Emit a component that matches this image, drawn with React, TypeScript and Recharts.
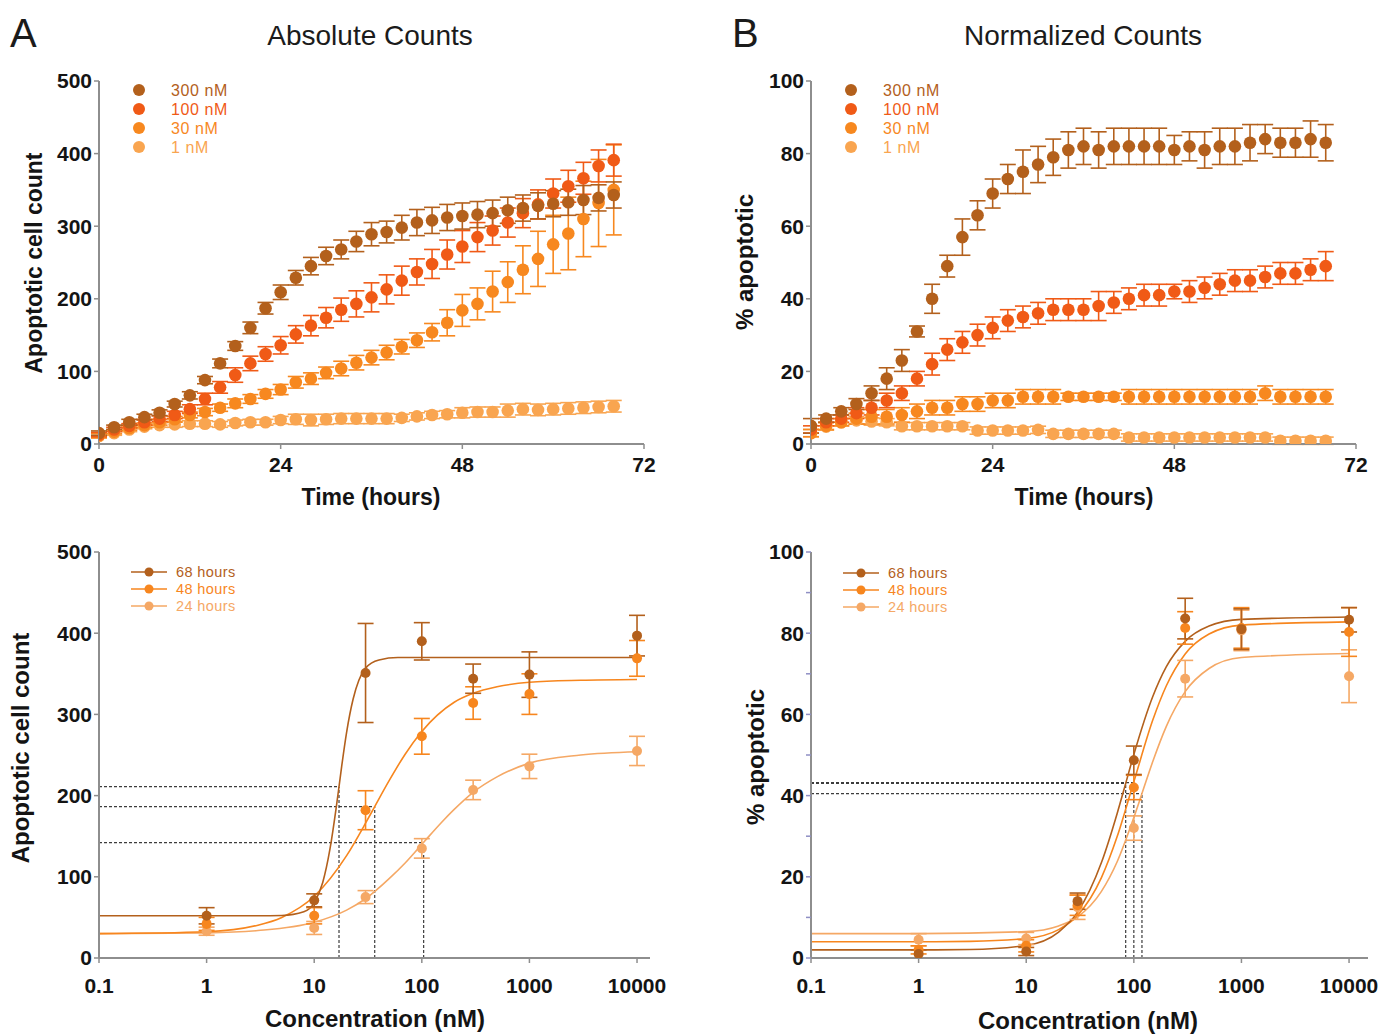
import React from 'react';
import { ScatterChart, ComposedChart, Scatter, Line, XAxis, YAxis, ErrorBar, ReferenceLine } from 'recharts';

const FONT = '"Liberation Sans", Arial, Helvetica, sans-serif';
const C300 = '#B3601C';
const C100 = '#F05A16';
const C30 = '#F7881F';
const C1 = '#F9A550';
const C68 = '#B3601C';
const C48 = '#F7861E';
const C24 = '#F5A865';
const AXIS = '#8e8e8e';

// ---- Top panels: time course ----
const TIMES = [0, 2, 4, 6, 8, 10, 12, 14, 16, 18, 20, 22, 24, 26, 28, 30, 32, 34, 36, 38, 40, 42, 44, 46, 48, 50, 52, 54, 56, 58, 60, 62, 64, 66, 68];
const TIME_TICKS = [0, 24, 48, 72];

const ABS_300 = [15, 23, 30, 37, 43, 55, 67, 88, 111, 135, 160, 187, 209, 229, 245, 259, 268, 279, 289, 292, 298, 305, 308, 312, 314, 316, 318, 322, 325, 328, 331, 333, 336, 339, 343];
const ERR_ABS_300 = [3, 3, 4, 4, 4, 4, 5, 5, 6, 6, 8, 8, 10, 10, 12, 12, 13, 14, 16, 15, 17, 18, 18, 18, 18, 18, 18, 18, 18, 18, 18, 18, 20, 18, 18];
const ABS_100 = [13, 20, 25, 30, 35, 40, 48, 62, 78, 95, 111, 124, 136, 151, 163, 174, 185, 193, 202, 213, 225, 237, 248, 261, 272, 285, 294, 305, 318, 330, 345, 355, 366, 383, 391];
const ERR_ABS_100 = [3, 3, 3, 4, 4, 5, 6, 8, 8, 10, 10, 10, 12, 12, 14, 14, 16, 18, 20, 20, 20, 18, 20, 20, 22, 20, 20, 20, 20, 20, 20, 22, 22, 22, 22];
const ABS_30 = [12, 17, 22, 26, 30, 34, 40, 44, 50, 56, 62, 69, 75, 85, 90, 98, 104, 112, 119, 126, 134, 143, 154, 167, 184, 193, 210, 223, 240, 255, 275, 290, 310, 332, 350];
const ERR_ABS_30 = [3, 3, 3, 3, 4, 4, 4, 5, 5, 6, 6, 6, 7, 8, 8, 8, 10, 10, 10, 10, 10, 10, 12, 18, 22, 22, 28, 28, 33, 38, 40, 50, 52, 60, 62];
const ABS_1 = [11, 15, 20, 24, 26, 27, 28, 28, 27, 29, 30, 30, 33, 34, 33, 34, 35, 35, 35, 35, 36, 38, 40, 41, 43, 44, 44, 46, 48, 47, 48, 49, 50, 51, 52];
const ERR_ABS_1 = [3, 3, 3, 3, 3, 4, 4, 4, 4, 4, 4, 4, 5, 7, 8, 7, 7, 7, 7, 7, 5, 5, 5, 5, 7, 7, 7, 9, 8, 8, 8, 8, 8, 8, 8];

const NORM_300 = [5, 7, 9, 11, 14, 18, 23, 31, 40, 49, 57, 63, 69, 73, 75, 77, 79, 81, 82, 81, 82, 82, 82, 82, 81, 82, 81, 82, 82, 83, 84, 83, 83, 84, 83];
const ERR_NORM_300 = [2, 1, 1, 1.5, 2, 3, 3, 1.5, 4, 3, 5, 4, 4, 4, 6, 5, 5, 5, 5, 5, 5, 5, 5, 5, 4, 4, 5, 5, 5, 5, 4, 4, 4, 5, 5];
const NORM_100 = [4, 6, 7, 8.5, 10, 12, 14, 18, 22, 26, 28, 30, 32, 34, 35, 36, 37, 37, 37, 38, 39, 40, 41, 41, 42, 42, 43, 44, 45, 45, 46, 47, 47, 48, 49];
const ERR_NORM_100 = [1, 1, 1, 1.5, 2, 2, 2, 2, 3, 3, 3, 3, 3, 3, 3, 3, 3, 3, 3, 4, 3, 3, 3, 3, 2, 3, 3, 3, 3, 3, 3, 3, 3, 3, 4];
const NORM_30 = [3, 5, 6, 7, 7.5, 7.5, 8, 9, 10, 10, 11, 11, 12, 12, 13, 13, 13, 13, 13, 13, 13, 13, 13, 13, 13, 13, 13, 13, 13, 13, 14, 13, 13, 13, 13];
const ERR_NORM_30 = [1, 1, 1, 1.5, 2, 2, 2, 2, 2, 2, 2, 2, 2, 2, 2, 2, 2, 1, 1, 1, 1, 2, 2, 2, 2, 2, 2, 2, 2, 2, 2, 2, 2, 2, 2];
const NORM_1 = [3, 4.8, 6, 6.5, 6.2, 6, 4.9, 4.9, 4.9, 4.9, 4.9, 3.7, 3.7, 3.7, 3.7, 3.9, 2.8, 2.8, 2.8, 2.8, 2.8, 1.8, 1.8, 1.8, 1.8, 1.8, 1.8, 1.8, 1.8, 1.8, 1.8, 0.9, 0.9, 0.9, 0.9];
const ERR_NORM_1 = [1, 1, 1, 1, 1, 1, 1, 1, 1, 1, 1, 1, 1, 1, 1, 1, 1, 1, 1, 1, 1, 1, 1, 1, 1, 1, 1, 1, 1, 1, 1, 1, 1, 1, 1];

// ---- Bottom panels: dose response ----
const CONC = [1, 10, 30, 100, 300, 1000, 10000];
const CONC_TICKS = [0.1, 1, 10, 100, 1000, 10000];

const DR_ABS_68 = [52, 71, 351, 390, 344, 349, 397];
const DR_ABS_68_ERR = [10, 8, 61, 23, 18, 28, 25];
const DR_ABS_48 = [42, 52, 182, 273, 314, 325, 369];
const DR_ABS_48_ERR = [8, 10, 24, 22, 20, 25, 22];
const DR_ABS_24 = [33, 37, 75, 135, 207, 236, 255];
const DR_ABS_24_ERR = [5, 8, 8, 12, 12, 15, 18];

const DR_NORM_68 = [1, 1.6, 14, 48.7, 83.6, 81, 83.3];
const DR_NORM_68_ERR = [1, 1, 2, 3.5, 5, 5, 3];
const DR_NORM_48 = [2, 3, 13, 42, 81.3, 81.3, 80.3];
const DR_NORM_48_ERR = [1, 1.5, 2.5, 3, 4, 5, 6];
const DR_NORM_24 = [4.5, 4.8, 12.5, 32, 68.8, 80.7, 69.4];
const DR_NORM_24_ERR = [1.5, 1.5, 3, 3, 4.5, 5, 6.5];

// fitted curves
const FIT_ABS_68_X = [0.1, 1, 3, 5, 8, 10, 12, 14, 16, 17, 18, 20, 23, 26, 30, 40, 60, 100, 1000, 10000];
const FIT_ABS_68_Y = [52, 52, 52, 52.4, 57, 68, 93, 134, 185, 211, 236, 278, 319, 342, 357, 367, 370, 370, 370, 370];
const FIT_ABS_48_X = [0.1, 1, 3, 5, 10, 20, 30, 36.5, 50, 70, 100, 200, 300, 500, 1000, 3000, 10000];
const FIT_ABS_48_Y = [30, 32.4, 40.4, 50, 76, 126, 166, 186.5, 219, 251, 279, 315, 326, 334, 339.5, 342, 343];
const FIT_ABS_24_X = [0.1, 1, 3, 10, 20, 30, 50, 70, 104, 150, 200, 300, 500, 1000, 3000, 10000];
const FIT_ABS_24_Y = [30, 31, 33.8, 44, 59, 73, 98, 117, 142.5, 166, 183, 204, 223, 240, 250, 254];

const FIT_NORM_68_X = [0.1, 1, 3, 10, 20, 30, 50, 70, 84, 100, 150, 200, 300, 500, 1000, 10000];
const FIT_NORM_68_Y = [2, 2, 2.1, 3.1, 6.4, 11.3, 23.5, 35.6, 43, 50.1, 64.4, 71.7, 78, 81.75, 83.4, 84];
const FIT_NORM_48_X = [0.1, 1, 3, 10, 20, 30, 50, 70, 100, 150, 200, 300, 500, 1000, 10000];
const FIT_NORM_48_Y = [4, 4, 4.1, 4.8, 7.0, 10.5, 19.8, 29.9, 43.4, 58.6, 67, 74.9, 79.8, 82, 82.8];
const FIT_NORM_24_X = [0.1, 1, 10, 20, 30, 50, 70, 100, 119, 150, 200, 300, 500, 1000, 10000];
const FIT_NORM_24_Y = [6, 6, 6.5, 7.9, 10.1, 16.4, 23.7, 34.6, 40.5, 48.4, 57, 65.6, 71.3, 74, 75];

// EC50 guide lines
const ABS_EC50 = [17, 36.5, 104];
const ABS_HALF = [211, 186.5, 142];
const NORM_EC50 = [84, 100, 119];
const NORM_HALF = [43, 43.2, 40.5];

const pts = (xs: number[], ys: number[], es: number[]) => xs.map((x, i) => ({ x, y: ys[i], e: es[i] }));
const curve = (xs: number[], ys: number[]) => xs.map((x, i) => ({ x, y: ys[i] }));

const dot = (color: string, r: number) => (p: any) =>
  p.cx == null || p.cy == null ? <g /> : <circle cx={p.cx} cy={p.cy} r={r} fill={color} />;

const tickStyle = { fill: '#141414', fontSize: 21, fontWeight: 700, fontFamily: FONT };
const axisLine = { stroke: AXIS, strokeWidth: 2 };
const tickLine = { stroke: AXIS, strokeWidth: 1.5 };

function TimePanel({ left, series, yMax, yTicks }: any) {
  return (
    <div style={{ position: 'absolute', left, top: 60 }}>
      <ScatterChart width={680} height={470} margin={{ top: 21, right: 36, bottom: 46, left: 0 }}>
        <XAxis type="number" dataKey="x" domain={[0, 72]} ticks={TIME_TICKS} interval={0} allowDataOverflow
          height={40} axisLine={axisLine} tickLine={tickLine} tickSize={5} tickMargin={8} tick={tickStyle} />
        <YAxis type="number" dataKey="y" domain={[0, yMax]} ticks={yTicks} interval={0} allowDataOverflow
          width={99} axisLine={axisLine} tickLine={tickLine} tickSize={5} tickMargin={2} tick={tickStyle} />
        {series.map((s: any) => (
          <Scatter key={s.name} name={s.name} data={s.data} isAnimationActive={false} shape={dot(s.color, 6.3)}>
            <ErrorBar dataKey="e" direction="y" width={8} stroke={s.color} strokeWidth={1.6} />
          </Scatter>
        ))}
      </ScatterChart>
    </div>
  );
}

function DosePanel({ left, right, xMax, yMax, yTicks, yFmt, yTickColor, fits, series, ec50, half }: any) {
  return (
    <div style={{ position: 'absolute', left, top: 530 }}>
      <ComposedChart width={690} height={500} margin={{ top: 22, right, bottom: 32, left: 0 }}>
        <XAxis type="number" dataKey="x" scale="log" domain={[0.1, xMax]} ticks={CONC_TICKS} interval={0} allowDataOverflow
          height={40} axisLine={axisLine} tickLine={tickLine} tickSize={5} tickMargin={15} tick={tickStyle} />
        <YAxis type="number" dataKey="y" domain={[0, yMax]} ticks={yTicks} interval={0} allowDataOverflow
          tickFormatter={yFmt} width={99} axisLine={axisLine} tickLine={{ stroke: yTickColor, strokeWidth: 1.5 }}
          tickSize={5} tickMargin={2} tick={tickStyle} />
        {ec50.map((x: number, i: number) => (
          <ReferenceLine key={'h' + i} segment={[{ x: 0.1, y: half[i] }, { x, y: half[i] }]} stroke="#3c3c3c" strokeWidth={1.2} strokeDasharray="3 2" />
        ))}
        {ec50.map((x: number, i: number) => (
          <ReferenceLine key={'v' + i} segment={[{ x, y: 0 }, { x, y: half[i] }]} stroke="#3c3c3c" strokeWidth={1.2} strokeDasharray="3 2" />
        ))}
        {fits.map((f: any) => (
          <Line key={f.name} data={f.data} dataKey="y" type="monotone" dot={false} activeDot={false}
            stroke={f.color} strokeWidth={1.6} isAnimationActive={false} />
        ))}
        {series.map((s: any) => (
          <Scatter key={s.name} name={s.name} data={s.data} isAnimationActive={false} shape={dot(s.color, 5)}>
            <ErrorBar dataKey="e" direction="y" width={8} stroke={s.color} strokeWidth={1.6} />
          </Scatter>
        ))}
      </ComposedChart>
    </div>
  );
}

const TOP_LEGEND = [
  { label: '300 nM', color: C300 },
  { label: '100 nM', color: C100 },
  { label: '30 nM', color: C30 },
  { label: '1 nM', color: C1 },
];
const DOSE_LEGEND = [
  { label: '68 hours', color: C68 },
  { label: '48 hours', color: C48 },
  { label: '24 hours', color: C24 },
];

export default function App() {
  const absSeries = [
    { name: '1 nM', color: C1, data: pts(TIMES, ABS_1, ERR_ABS_1) },
    { name: '30 nM', color: C30, data: pts(TIMES, ABS_30, ERR_ABS_30) },
    { name: '100 nM', color: C100, data: pts(TIMES, ABS_100, ERR_ABS_100) },
    { name: '300 nM', color: C300, data: pts(TIMES, ABS_300, ERR_ABS_300) },
  ];
  const normSeries = [
    { name: '1 nM', color: C1, data: pts(TIMES, NORM_1, ERR_NORM_1) },
    { name: '30 nM', color: C30, data: pts(TIMES, NORM_30, ERR_NORM_30) },
    { name: '100 nM', color: C100, data: pts(TIMES, NORM_100, ERR_NORM_100) },
    { name: '300 nM', color: C300, data: pts(TIMES, NORM_300, ERR_NORM_300) },
  ];
  const absFits = [
    { name: 'f24', color: C24, data: curve(FIT_ABS_24_X, FIT_ABS_24_Y) },
    { name: 'f48', color: C48, data: curve(FIT_ABS_48_X, FIT_ABS_48_Y) },
    { name: 'f68', color: C68, data: curve(FIT_ABS_68_X, FIT_ABS_68_Y) },
  ];
  const absDose = [
    { name: '24 hours', color: C24, data: pts(CONC, DR_ABS_24, DR_ABS_24_ERR) },
    { name: '48 hours', color: C48, data: pts(CONC, DR_ABS_48, DR_ABS_48_ERR) },
    { name: '68 hours', color: C68, data: pts(CONC, DR_ABS_68, DR_ABS_68_ERR) },
  ];
  const normFits = [
    { name: 'f24', color: C24, data: curve(FIT_NORM_24_X, FIT_NORM_24_Y) },
    { name: 'f48', color: C48, data: curve(FIT_NORM_48_X, FIT_NORM_48_Y) },
    { name: 'f68', color: C68, data: curve(FIT_NORM_68_X, FIT_NORM_68_Y) },
  ];
  const normDose = [
    { name: '24 hours', color: C24, data: pts(CONC, DR_NORM_24, DR_NORM_24_ERR) },
    { name: '48 hours', color: C48, data: pts(CONC, DR_NORM_48, DR_NORM_48_ERR) },
    { name: '68 hours', color: C68, data: pts(CONC, DR_NORM_68, DR_NORM_68_ERR) },
  ];

  const titleStyle = { fontFamily: FONT, fill: '#1b1b1b' } as any;
  const axisTitle = { fontFamily: FONT, fontWeight: 700, fill: '#141414' } as any;
  const legTop = { fontFamily: FONT, letterSpacing: 0.6 } as any;
  const legDose = { fontFamily: FONT, letterSpacing: 0.4 } as any;

  return (
    <div style={{ position: 'absolute', left: 0, top: 0, width: 1383, height: 1034, background: '#fff', overflow: 'hidden' }}>
      <TimePanel left={0} series={absSeries} yMax={500} yTicks={[0, 100, 200, 300, 400, 500]} />
      <TimePanel left={712} series={normSeries} yMax={100} yTicks={[0, 20, 40, 60, 80, 100]} />
      <DosePanel left={0} right={40} xMax={13200} yMax={500} yTicks={[0, 100, 200, 300, 400, 500]}
        yFmt={(v: number) => String(v)} yTickColor={AXIS} fits={absFits} series={absDose} ec50={ABS_EC50} half={ABS_HALF} />
      <DosePanel left={712} right={34} xMax={15000} yMax={100} yTicks={[0, 10, 20, 30, 40, 50, 60, 70, 80, 90, 100]}
        yFmt={(v: number) => (v % 20 === 0 ? String(v) : '')} yTickColor="#8f8fc4" fits={normFits} series={normDose} ec50={NORM_EC50} half={NORM_HALF} />

      <svg width={1383} height={1034} style={{ position: 'absolute', left: 0, top: 0, pointerEvents: 'none' }}>
        <text x={10} y={47} fontSize={40} style={titleStyle}>A</text>
        <text x={732} y={47} fontSize={40} style={titleStyle}>B</text>
        <text x={370} y={45} fontSize={28} textAnchor="middle" style={titleStyle}>Absolute Counts</text>
        <text x={1083} y={45} fontSize={28} textAnchor="middle" style={titleStyle}>Normalized Counts</text>

        <text x={371} y={505} fontSize={23} textAnchor="middle" style={axisTitle}>Time (hours)</text>
        <text x={1084} y={505} fontSize={23} textAnchor="middle" style={axisTitle}>Time (hours)</text>
        <text transform="translate(42,263) rotate(-90)" fontSize={23} textAnchor="middle" style={axisTitle}>Apoptotic cell count</text>
        <text transform="translate(753,262) rotate(-90)" fontSize={24} textAnchor="middle" style={axisTitle}>% apoptotic</text>
        <text x={375} y={1027} fontSize={24} textAnchor="middle" style={axisTitle}>Concentration (nM)</text>
        <text x={1088} y={1029} fontSize={24} textAnchor="middle" style={axisTitle}>Concentration (nM)</text>
        <text transform="translate(29,748) rotate(-90)" fontSize={24} textAnchor="middle" style={axisTitle}>Apoptotic cell count</text>
        <text transform="translate(764,757) rotate(-90)" fontSize={24} textAnchor="middle" style={axisTitle}>% apoptotic</text>

        {TOP_LEGEND.map((l, i) => (
          <g key={'tl' + i}>
            <circle cx={139} cy={90 + i * 19} r={6} fill={l.color} />
            <text x={171} y={96 + i * 19} fontSize={16} fill={l.color} style={legTop}>{l.label}</text>
            <circle cx={851} cy={90 + i * 19} r={6} fill={l.color} />
            <text x={883} y={96 + i * 19} fontSize={16} fill={l.color} style={legTop}>{l.label}</text>
          </g>
        ))}
        {DOSE_LEGEND.map((l, i) => (
          <g key={'dl' + i}>
            <line x1={131} x2={167} y1={572 + i * 17} y2={572 + i * 17} stroke={l.color} strokeWidth={1.6} />
            <circle cx={149} cy={572 + i * 17} r={4.5} fill={l.color} />
            <text x={176} y={577 + i * 17} fontSize={14.5} fill={l.color} style={legDose}>{l.label}</text>
            <line x1={843} x2={879} y1={573 + i * 17} y2={573 + i * 17} stroke={l.color} strokeWidth={1.6} />
            <circle cx={861} cy={573 + i * 17} r={4.5} fill={l.color} />
            <text x={888} y={578 + i * 17} fontSize={14.5} fill={l.color} style={legDose}>{l.label}</text>
          </g>
        ))}
      </svg>
    </div>
  );
}
